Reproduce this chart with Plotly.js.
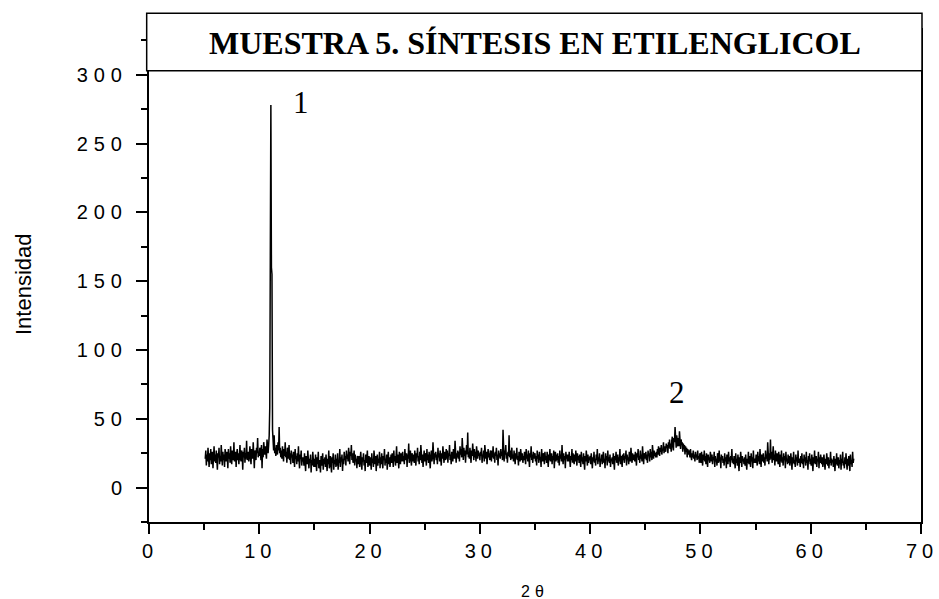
<!DOCTYPE html>
<html>
<head>
<meta charset="utf-8">
<script src="https://cdn.plot.ly/plotly-3.0.1.min.js"></script>
<style>
  html, body { margin: 0; padding: 0; background: #fff; }
  #chart { width: 939px; height: 599px; }
  /* spaced-out digits on the tick labels */
  .ytick text { letter-spacing: 6px; }
  .xtick text { letter-spacing: 5px; }
  .annotation[data-index="1"] text { letter-spacing: 5px; }
</style>
</head>
<body>
<div id="chart"></div>
<script>
// Diffractogram: one row of readings per degree of 2θ, 0.05° step.
// The first row starts at 5.10°, every other row at its whole degree.
const firstAngle = 5.10;
const stepAngle = 0.05;
const scanRows = [
  [21,27,16,24,19,29,22,15,25,20,28,17,23,26,14,22,30,19],
  [24,18,27,20,13,25,22,29,17,23,19,31,21,16,26,20,24,15,28,22],
  [19,26,23,14,28,21,25,18,30,22,17,27,24,20,33,19,23,26,15,24],
  [28,20,25,17,23,31,21,19,27,24,13,26,22,29,18,25,21,34,20,23],
  [26,19,24,30,22,17,28,25,21,33,23,14,27,24,20,29,25,36,22,26],
  [23,29,26,20,31,14,28,22,33,27,24,30,26,21,35,28,25,31,38,58],
  [166,278,160,155,42,30,27,38,25,29,23,31,26,24,33,27,44,25,29,22],
  [27,21,30,24,19,28,23,33,22,26,18,29,24,21,31,20,25,17,27,22],
  [24,18,26,20,15,28,21,23,17,25,19,30,20,14,24,21,27,16,22,19],
  [22,16,25,18,12,23,20,17,27,19,14,21,18,24,11,20,16,26,19,15],
  [21,15,24,18,12,22,17,26,14,20,18,11,23,16,19,25,13,21,17,22],
  [15,24,18,12,21,17,27,14,19,23,16,11,22,18,25,13,20,17,24,15],
  [21,16,25,13,20,18,28,15,22,19,24,12,21,17,26,20,23,16,27,21],
  [24,19,29,22,17,26,23,31,20,25,18,22,27,16,24,19,21,14,23,20],
  [17,23,15,21,26,18,13,22,19,25,16,20,12,24,18,21,27,15,19,23],
  [16,22,19,13,25,18,21,15,27,20,17,23,12,19,24,16,21,18,26,14],
  [22,17,25,19,14,23,20,28,16,21,18,24,13,20,26,17,22,15,19,24],
  [18,25,21,15,27,19,23,16,22,30,18,24,20,14,26,21,17,25,19,23],
  [26,19,23,17,28,22,20,25,15,24,21,32,18,23,27,20,16,25,22,19],
  [24,18,27,21,16,25,22,29,19,23,17,26,20,31,22,18,24,15,21,27],
  [19,25,22,16,28,20,24,18,26,21,14,23,27,19,22,33,20,17,25,22],
  [26,20,24,17,29,22,25,19,27,23,16,25,21,30,24,18,26,22,20,28],
  [21,27,18,25,23,31,20,24,17,26,22,19,28,24,21,34,23,18,25,22],
  [27,21,26,19,30,24,28,22,36,25,20,29,23,27,18,26,31,24,40,22],
  [26,21,29,24,18,27,23,32,25,20,28,22,26,19,30,24,21,27,23,25],
  [20,26,23,29,18,24,22,27,19,31,25,21,26,17,23,28,22,25,20,27],
  [24,19,27,22,30,21,25,18,26,23,29,20,24,16,27,22,25,21,28,23],
  [26,20,42,23,19,27,24,31,21,25,18,26,23,38,22,27,20,25,29,21],
  [24,19,27,22,17,25,21,29,20,23,16,26,22,19,28,24,20,25,18,23],
  [20,26,22,17,28,21,24,19,27,23,15,25,22,30,20,24,18,26,21,23],
  [25,19,23,16,27,21,24,18,26,20,22,15,28,21,19,25,23,17,26,20],
  [23,18,26,21,15,24,20,28,19,22,25,17,23,20,27,14,22,26,19,24],
  [20,25,18,23,16,27,21,24,19,31,22,17,25,20,23,14,26,21,24,19],
  [24,19,26,21,15,23,20,28,18,25,22,17,24,19,27,21,16,25,20,23],
  [18,24,20,15,26,19,22,17,25,20,13,23,19,27,21,16,24,18,22,20],
  [23,17,25,20,14,22,19,26,18,21,16,24,20,28,17,22,19,25,15,21],
  [19,24,17,22,26,18,21,14,25,20,23,16,27,19,22,18,24,15,21,20],
  [22,17,25,19,13,23,20,26,18,21,24,16,22,19,28,17,23,20,15,24],
  [20,25,18,23,21,27,16,24,20,22,17,26,21,19,29,23,18,25,20,22],
  [24,19,26,21,16,25,22,28,20,23,18,27,21,24,19,30,22,17,25,23],
  [21,26,20,24,18,27,23,25,19,28,22,26,20,31,24,21,27,23,25,22],
  [26,22,28,24,30,25,23,29,26,31,24,28,27,33,25,30,28,26,32,29],
  [31,25,33,29,35,28,32,26,34,37,30,27,36,33,44,35,29,38,34,30],
  [36,30,41,34,28,35,31,33,26,32,28,31,24,30,26,29,22,28,24,27],
  [26,22,28,23,20,25,22,27,21,24,19,26,22,24,20,27,21,23,18,25],
  [22,18,26,21,16,24,20,27,19,23,17,25,21,15,24,20,22,18,26,21],
  [19,24,17,22,20,26,15,23,19,21,16,25,20,18,27,19,22,14,24,20],
  [23,18,21,16,25,19,22,14,24,20,17,26,19,22,15,23,20,28,18,21],
  [17,23,19,14,25,18,21,16,24,19,12,22,18,26,20,15,23,19,21,17],
  [22,16,24,19,13,21,18,26,17,23,20,15,25,19,22,14,27,18,21,20],
  [18,24,21,16,26,19,23,17,28,20,15,24,21,19,25,18,22,16,27,21],
  [24,19,33,22,17,25,20,35,21,26,18,23,30,20,24,16,27,22,19,25],
  [21,17,26,20,15,24,19,27,18,22,16,25,20,23,14,26,19,21,17,24],
  [18,23,16,21,25,19,13,22,18,26,17,20,15,24,19,22,16,27,18,21],
  [20,15,23,18,25,17,21,14,24,19,22,16,26,18,20,13,23,19,25,17],
  [21,16,24,19,12,22,18,27,17,20,23,15,21,19,26,14,22,18,24,20],
  [17,22,15,20,24,18,13,21,17,25,19,16,22,14,20,18,26,16,21,19],
  [20,15,23,18,12,21,17,25,16,19,22,14,20,17,24,13,21,18,26,16],
  [19,14,22,17,25,18,13,21,16,23,19,12,24,17,20,15,26,18,21]
];

// Peak labels: number and position (2θ, intensity)
const peakNames = ['1', '2'];
const peakAngles = [13.75, 47.85];
const peakHeights = [280, 69];

const chartTitle = 'MUESTRA 5. SÍNTESIS EN ETILENGLICOL';
const xTitle = '2θ';
const yTitle = 'Intensidad';

const twoTheta = [];
const intensity = [];
scanRows.forEach((row, k) => {
  const start = k === 0 ? firstAngle : 5 + k;
  row.forEach((v, j) => {
    twoTheta.push(+(start + j * stepAngle).toFixed(2));
    intensity.push(v);
  });
});

const trace = {
  x: twoTheta,
  y: intensity,
  type: 'scatter',
  mode: 'lines',
  line: { color: '#000', width: 1.5 },
  hoverinfo: 'skip'
};

const sans = 'Liberation Sans, Arial, sans-serif';
const serif = 'Liberation Serif, Times New Roman, serif';

const annotations = [
  { xref: 'paper', yref: 'paper', x: -0.1619, y: 0.4818, xanchor: 'center', yanchor: 'middle',
    text: yTitle, textangle: -90, showarrow: false, font: { family: sans, size: 22, color: '#000' } },
  { xref: 'paper', yref: 'paper', x: 0.5, y: -0.1397, xanchor: 'center', yanchor: 'middle',
    text: xTitle, showarrow: false, font: { family: sans, size: 16, color: '#000' } },
  { xref: 'paper', yref: 'paper', x: 0.4998, y: 0.9706, xanchor: 'center', yanchor: 'middle',
    text: chartTitle, showarrow: false, font: { family: serif, size: 32, color: '#000', weight: 'bold' } }
];
peakNames.forEach((name, i) => {
  annotations.push({
    x: peakAngles[i], y: peakHeights[i], xref: 'x', yref: 'y',
    xanchor: 'center', yanchor: 'middle', text: name, showarrow: false,
    font: { family: serif, size: 31, color: '#000' }
  });
});

const layout = {
  width: 939,
  height: 599,
  margin: { l: 149, r: 18, t: 28, b: 77 },
  paper_bgcolor: '#fff',
  plot_bgcolor: '#fff',
  showlegend: false,
  font: { family: sans, color: '#000' },
  xaxis: {
    range: [0, 70],
    tick0: 0, dtick: 10,
    ticks: 'outside', ticklen: 10, tickwidth: 2, tickcolor: '#000',
    showline: true, linewidth: 2, linecolor: '#000', mirror: false,
    showgrid: false, zeroline: false,
    tickfont: { family: sans, size: 20, color: '#000' },
    ticklabelshift: 1,
    ticklabeloverflow: 'allow',
    minor: { dtick: 5, ticks: 'outside', ticklen: 6, tickwidth: 2, tickcolor: '#000', showgrid: false }
  },
  yaxis: {
    range: [-25, 334],
    tick0: 0, dtick: 50,
    ticks: 'outside', ticklen: 11, tickwidth: 2, tickcolor: '#000',
    showline: true, linewidth: 2, linecolor: '#000', mirror: true,
    showgrid: false, zeroline: false,
    tickfont: { family: sans, size: 20, color: '#000' },
    ticklabelstandoff: 4,
    ticklabeloverflow: 'allow',
    minor: { dtick: 25, ticks: 'outside', ticklen: 6, tickwidth: 2, tickcolor: '#000', showgrid: false }
  },
  shapes: [
    // framed title panel across the top of the plot
    { type: 'rect', xref: 'paper', yref: 'paper', x0: -0.003, x1: 1.0013, y0: 0.9136, y1: 1.0298,
      line: { color: '#000', width: 1.5 }, fillcolor: '#fff', layer: 'above' }
  ],
  annotations: annotations
};

Plotly.newPlot('chart', [trace], layout, { displayModeBar: false, staticPlot: true });
</script>
</body>
</html>
